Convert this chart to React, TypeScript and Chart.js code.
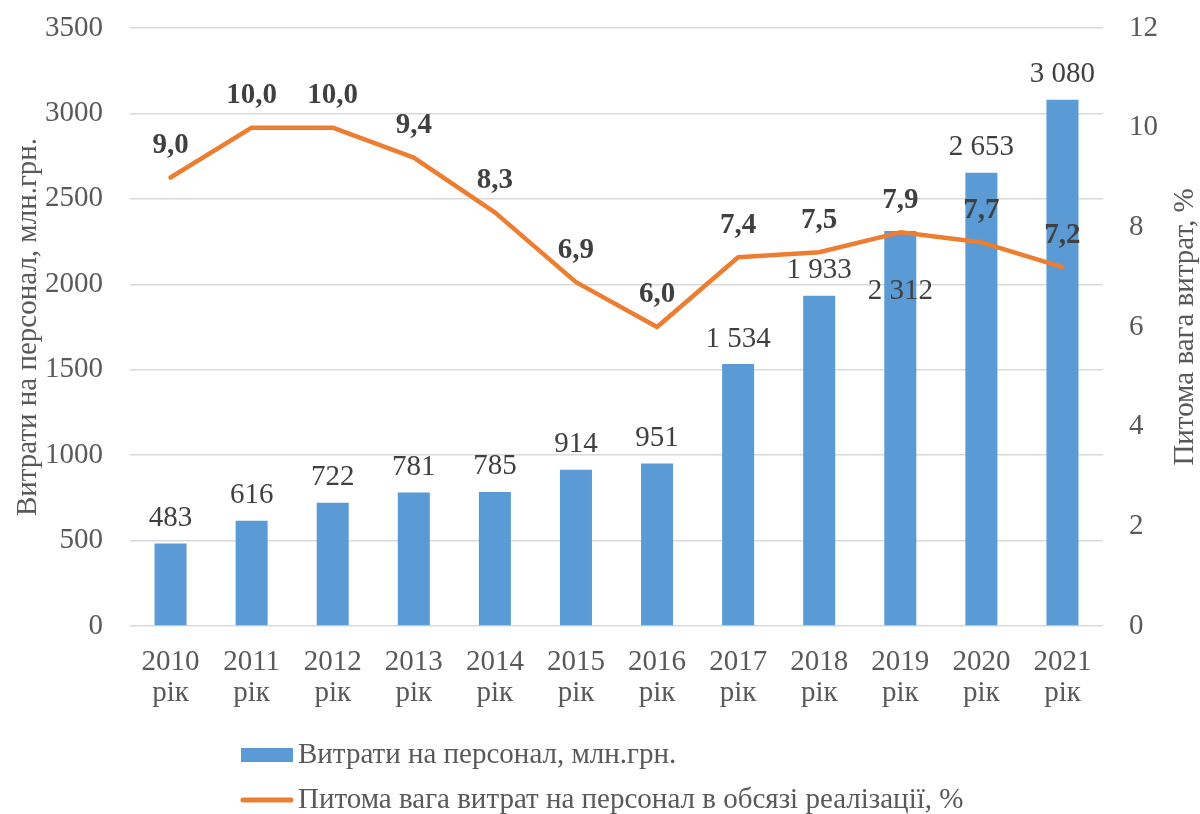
import React, { useEffect, useRef } from "react";
import { Chart, registerables } from "chart.js";

Chart.register(...registerables);

const categories = ["2010", "2011", "2012", "2013", "2014", "2015", "2016", "2017", "2018", "2019", "2020", "2021"];
const categorySuffix = "рік";
const staffCosts = [483, 616, 722, 781, 785, 914, 951, 1534, 1933, 2312, 2653, 3080];
const costShare = [9.0, 10.0, 10.0, 9.4, 8.3, 6.9, 6.0, 7.4, 7.5, 7.9, 7.7, 7.2];
const leftAxisMax = 3500;
const leftAxisStep = 500;
const rightAxisMax = 12;
const rightAxisStep = 2;
const barSeriesName = "Витрати на персонал, млн.грн.";
const lineSeriesName = "Питома вага витрат на персонал в обсязі реалізації, %";
const leftAxisTitle = "Витрати на персонал, млн.грн.";
const rightAxisTitle = "Питома вага витрат, %";

const FONT = "'Liberation Serif', 'Times New Roman', serif";
const FS = 29;
const BLUE = "#5B9BD5";
const ORANGE = "#ED7D31";
const TEXT = "#595959";
const LABEL = "#404040";

const fmtThousands = (v: number) => String(v).replace(/\B(?=(\d{3})+(?!\d))/g, " ");
const fmtDecimal = (v: number) => v.toFixed(1).replace(".", ",");

const labelPlugin = {
  id: "valueLabels",
  afterDatasetsDraw(chart: any) {
    const ctx = chart.ctx;
    ctx.save();
    ctx.textAlign = "center";
    ctx.textBaseline = "middle";
    ctx.fillStyle = LABEL;
    ctx.font = `${FS}px ${FONT}`;
    const barMeta = chart.getDatasetMeta(0);
    barMeta.data.forEach((el: any, i: number) => {
      const shift = i === 9 ? 60 : -25;
      ctx.fillText(fmtThousands(staffCosts[i]), el.x, el.y + shift);
    });
    ctx.font = `bold ${FS}px ${FONT}`;
    const lineMeta = chart.getDatasetMeta(1);
    lineMeta.data.forEach((el: any, i: number) => {
      ctx.fillText(fmtDecimal(costShare[i]), el.x, el.y - 32);
    });
    ctx.restore();
  },
};

const legendPlugin = {
  id: "customLegend",
  afterDraw(chart: any) {
    const ctx = chart.ctx;
    const area = chart.chartArea;
    ctx.save();
    ctx.fillStyle = TEXT;
    ctx.font = `${FS}px ${FONT}`;
    ctx.textAlign = "center";
    ctx.textBaseline = "middle";
    ctx.translate(1185, (area.top + area.bottom) / 2);
    ctx.rotate(-Math.PI / 2);
    ctx.fillText(rightAxisTitle, 0, 0);
    ctx.setTransform(1, 0, 0, 1, 0, 0);

    const ds = chart.data.datasets;
    const x0 = 241;
    const sw = 52;
    ctx.textAlign = "left";
    ctx.fillStyle = ds[0].backgroundColor;
    ctx.fillRect(x0, 748, sw, 14);
    ctx.fillStyle = TEXT;
    ctx.fillText(ds[0].label, x0 + sw + 5, 755);
    ctx.strokeStyle = ds[1].borderColor;
    ctx.lineWidth = 5;
    ctx.lineCap = "round";
    ctx.beginPath();
    ctx.moveTo(x0 + 2, 800);
    ctx.lineTo(x0 + sw - 2, 800);
    ctx.stroke();
    ctx.fillText(ds[1].label, x0 + sw + 5, 800);
    ctx.restore();
  },
};

export default function App() {
  const ref = useRef<HTMLCanvasElement | null>(null);

  useEffect(() => {
    if (!ref.current) return;
    const chart = new Chart(ref.current, {
      type: "bar",
      data: {
        labels: categories.map((c) => [c, categorySuffix]),
        datasets: [
          {
            type: "bar",
            label: barSeriesName,
            data: staffCosts,
            backgroundColor: BLUE,
            yAxisID: "y",
            order: 2,
            barPercentage: 0.395,
            categoryPercentage: 1,
          },
          {
            type: "line",
            label: lineSeriesName,
            data: costShare,
            borderColor: ORANGE,
            backgroundColor: ORANGE,
            borderWidth: 4.5,
            pointRadius: 0,
            tension: 0,
            borderJoinStyle: "round",
            borderCapStyle: "round",
            yAxisID: "y1",
            order: 1,
          },
        ] as any,
      },
      options: {
        responsive: false,
        animation: false,
        layout: { padding: { top: 28, left: 0, right: 0, bottom: 0 } },
        plugins: {
          legend: { display: false },
          tooltip: { enabled: false },
          title: { display: false },
        },
        scales: {
          x: {
            grid: { display: false, drawTicks: false },
            border: { display: false },
            ticks: {
              color: TEXT,
              font: { family: FONT, size: FS, lineHeight: 1.07 },
              padding: 21,
              maxRotation: 0,
              autoSkip: false,
            },
            afterFit: (s: any) => {
              s.height = 188;
              s.paddingLeft = 0;
              s.paddingRight = 0;
            },
          },
          y: {
            position: "left",
            min: 0,
            max: leftAxisMax,
            grid: { color: "#D9D9D9", lineWidth: 1.5, drawTicks: false },
            border: { display: false },
            ticks: {
              stepSize: leftAxisStep,
              color: TEXT,
              font: { family: FONT, size: FS },
              padding: 27,
              callback: (v: any) => String(v),
            },
            title: {
              display: true,
              text: leftAxisTitle,
              color: TEXT,
              font: { family: FONT, size: FS },
              padding: { top: 11, bottom: 0 },
            },
            afterFit: (s: any) => {
              s.width = 130;
              s.paddingTop = 0;
              s.paddingBottom = 0;
            },
          },
          y1: {
            position: "right",
            min: 0,
            max: rightAxisMax,
            grid: { display: false, drawTicks: false },
            border: { display: false },
            ticks: {
              stepSize: rightAxisStep,
              color: TEXT,
              font: { family: FONT, size: FS },
              padding: 26,
              callback: (v: any) => String(v),
            },
            afterFit: (s: any) => {
              s.width = 97;
              s.paddingTop = 0;
              s.paddingBottom = 0;
            },
          },
        },
      } as any,
      plugins: [labelPlugin, legendPlugin],
    });
    return () => chart.destroy();
  }, []);

  return (
    <div style={{ position: "absolute", left: 0, top: 0, width: 1200, height: 814, background: "#fff" }}>
      <canvas ref={ref} width={1200} height={814} style={{ display: "block" }} />
    </div>
  );
}
